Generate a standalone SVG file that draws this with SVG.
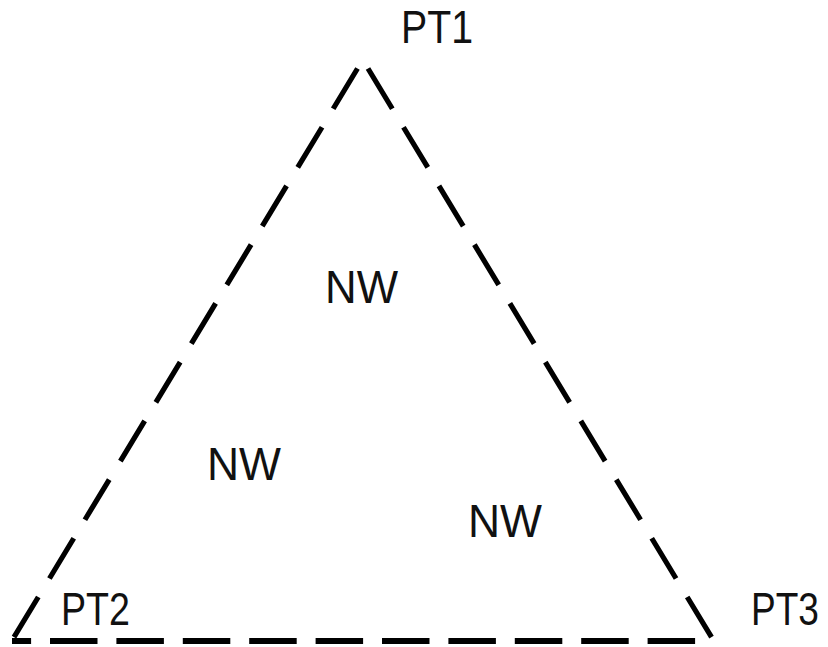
<svg xmlns="http://www.w3.org/2000/svg" width="828" height="647" viewBox="0 0 828 647">
  <style>
    .edge { fill: none; stroke: #000; stroke-width: 5.2; }
    .side { stroke-dasharray: 47 21.6; }
    .base { stroke-width: 6; stroke-dasharray: 47.5 18.9; }
    .lbl { font-family: "Liberation Sans", Arial, "DejaVu Sans", sans-serif; font-size: 46px; fill: #111; }
  </style>
  <rect width="828" height="647" fill="#fff"/>
  <g id="connectors">
    <line class="edge side" x1="357.5" y1="68.5" x2="12" y2="640.5"/>
    <line class="edge side" x1="368" y1="68.5" x2="713.5" y2="640.5"/>
    <line class="edge base" x1="12" y1="641" x2="712" y2="641" stroke-dashoffset="28.4"/>
  </g>
  <g id="pt1"><text class="lbl" x="401" y="43" textLength="72" lengthAdjust="spacingAndGlyphs">PT1</text></g>
  <g id="pt2"><text class="lbl" x="61" y="625" textLength="69" lengthAdjust="spacingAndGlyphs">PT2</text></g>
  <g id="pt3"><text class="lbl" x="751" y="625" textLength="68" lengthAdjust="spacingAndGlyphs">PT3</text></g>
  <g id="nw-top"><text class="lbl" x="325" y="303" textLength="73" lengthAdjust="spacingAndGlyphs">NW</text></g>
  <g id="nw-left"><text class="lbl" x="207" y="480" textLength="74" lengthAdjust="spacingAndGlyphs">NW</text></g>
  <g id="nw-right"><text class="lbl" x="468" y="537" textLength="74" lengthAdjust="spacingAndGlyphs">NW</text></g>
</svg>
